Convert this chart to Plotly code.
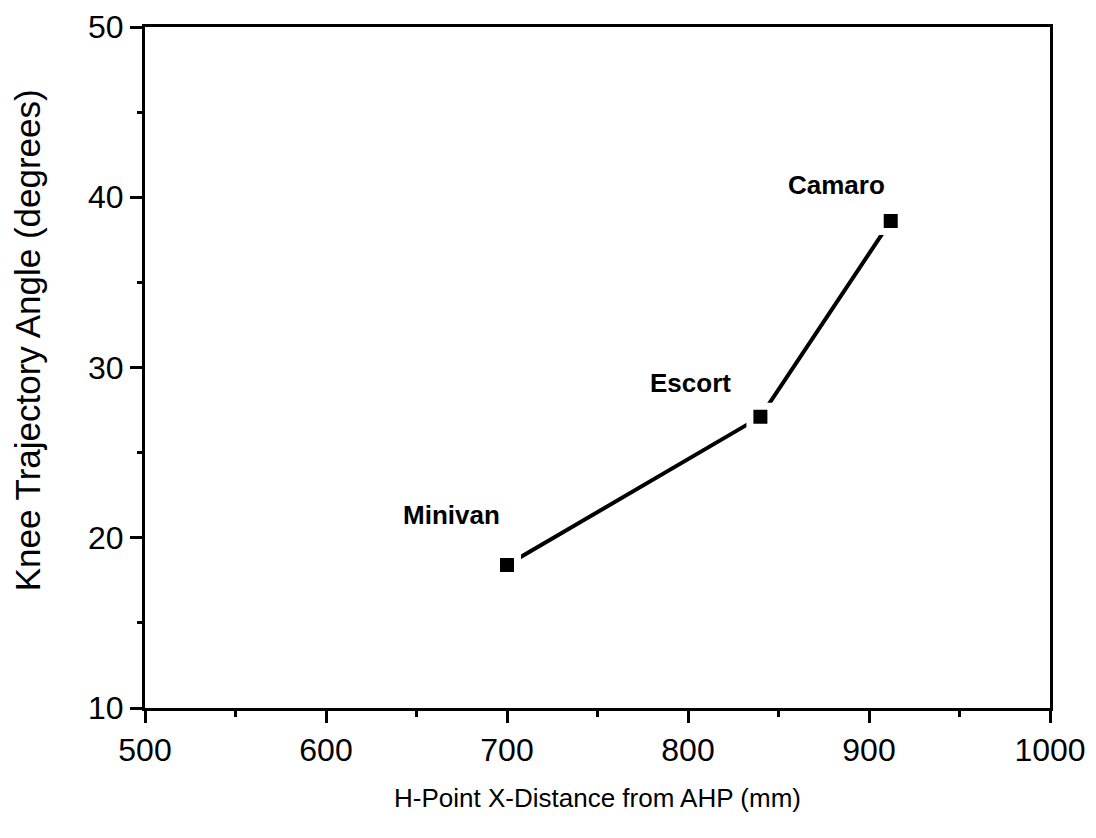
import plotly.graph_objects as go

vehicles = ["Minivan", "Escort", "Camaro"]
hpoint_x = [700, 840, 912]
knee_angle = [18.4, 27.1, 38.6]

x_ticks = [500, 600, 700, 800, 900, 1000]
y_ticks = [10, 20, 30, 40, 50]

# label offsets (pixels) relative to each point
label_dx = [-5, -27, -4]
label_dy = [50, 34, 36]

fig = go.Figure()
fig.add_trace(go.Scatter(
    x=hpoint_x, y=knee_angle, mode="lines+markers",
    line=dict(color="black", width=4),
    marker=dict(symbol="square", size=21, color="black",
                line=dict(color="white", width=7)),
    showlegend=False, cliponaxis=False,
))

for name, xv, yv, dx, dy in zip(vehicles, hpoint_x, knee_angle, label_dx, label_dy):
    fig.add_annotation(x=xv, y=yv, text=name, showarrow=False,
                       xanchor="right", yanchor="middle", xshift=dx, yshift=dy,
                       font=dict(family="Liberation Sans, Arial", size=26, color="black", weight="bold"))

# y-axis title as a rotated annotation
fig.add_annotation(xref="paper", yref="paper", x=0, y=0.54, xshift=-118,
                   text="Knee Trajectory Angle (degrees)", textangle=-90, showarrow=False,
                   xanchor="center", yanchor="middle",
                   font=dict(family="Liberation Sans, Arial", size=35, color="black"))

axis_common = dict(
    showgrid=False, zeroline=False, showline=True, linecolor="black", linewidth=3,
    mirror=True, ticks="outside", ticklen=12, tickwidth=2.5, tickcolor="black",
    tickfont=dict(family="Liberation Sans, Arial", size=32, color="black"),
    automargin=False, ticklabeloverflow="allow",
)

fig.update_xaxes(range=[500, 1000], tickvals=x_ticks,
                 minor=dict(ticks="outside", ticklen=6, tickwidth=2.5, tickcolor="black", dtick=50, showgrid=False),
                 title=dict(text="H-Point X-Distance from AHP (mm)", standoff=22,
                            font=dict(family="Liberation Sans, Arial", size=26, color="black")),
                 **axis_common)
fig.update_yaxes(range=[10, 50], tickvals=y_ticks,
                 minor=dict(ticks="outside", ticklen=5, tickwidth=2.5, tickcolor="black", dtick=5, showgrid=False),
                 **axis_common)

fig.update_layout(
    width=1088, height=830,
    margin=dict(l=137, r=46, t=19, b=130),
    paper_bgcolor="white", plot_bgcolor="white",
)

fig.write_html("out.html")
